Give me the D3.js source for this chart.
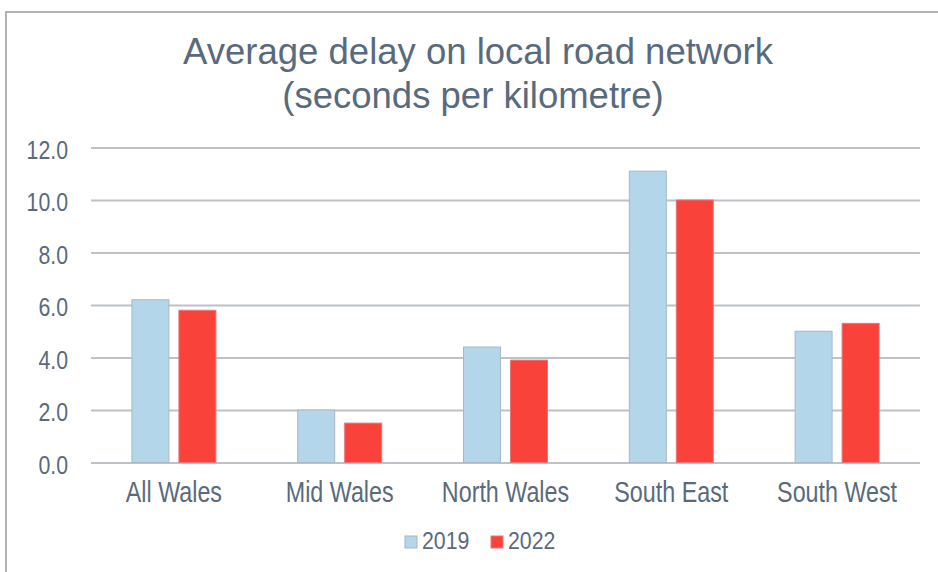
<!DOCTYPE html>
<html>
<head>
<meta charset="utf-8">
<script src="https://cdn.jsdelivr.net/npm/d3@7"></script>
<style>
  body { margin: 0; background: #fff; }
  text { font-family: "Liberation Sans", Arial, sans-serif; }
</style>
</head>
<body>
<div id="chart"></div>
<script>
const categories = ['All Wales', 'Mid Wales', 'North Wales', 'South East', 'South West']
const seriesNames = ['2019', '2022']
const values2019 = [6.2, 2.0, 4.4, 11.1, 5.0]
const values2022 = [5.8, 1.5, 3.9, 10.0, 5.3]
const yTicks = [0, 2, 4, 6, 8, 10, 12]
const titleLines = ['Average delay on local road network', '(seconds per kilometre)']

const width = 938
const height = 572
const padding = { left: 91, top: 147.5, right: 18, bottom: 109.5 }
const chartWidth = width - padding.left - padding.right
const chartHeight = height - padding.top - padding.bottom
const textColor = '#596a7c'
const colors = { '2019': '#b4d6ea', '2022': '#f9433a' }
const strokes = { '2019': '#a7b8c6', '2022': '#e8757a' }

const svg = d3.select('#chart').append('svg')
    .attr('width', width)
    .attr('height', height)

// outer frame
svg.append('rect')
    .attr('x', 6)
    .attr('y', 12)
    .attr('width', width + 10)
    .attr('height', height + 10)
    .attr('fill', 'none')
    .attr('stroke', '#b3b3b3')
    .attr('stroke-width', 2)

svg.append('g')
    .selectAll('text')
    .data(titleLines).enter()
  .append('text')
    .attr('x', (d, i) => i === 0 ? 478 : 473)
    .attr('y', (d, i) => 64 + i * 44)
    .attr('text-anchor', 'middle')
    .attr('font-size', 36.5)
    .attr('fill', textColor)
    .text(d => d)

const xScale = d3.scaleBand()
    .range([0, chartWidth])
    .domain(categories)

const xInner = d3.scaleBand()
    .domain(seriesNames)
    .range([0, xScale.bandwidth()])
    .paddingInner(0.213)
    .paddingOuter(0.87)

const yScale = d3.scaleLinear()
    .range([chartHeight, 0])
    .domain([0, 12])

const chart = svg.append('g')
    .attr('transform', `translate(${padding.left}, ${padding.top})`)

const yAxis = d3.axisLeft(yScale)
    .tickValues(yTicks)
    .tickFormat(d3.format('.1f'))
    .tickSize(-chartWidth)
    .tickPadding(23)

const yAxisElement = chart.append('g')
    .attr('class', 'y axis')
    .call(yAxis)

yAxisElement.select('.domain').remove()
yAxisElement.selectAll('.tick line')
    .attr('stroke', '#bcc2c8')
    .attr('stroke-width', 2)
yAxisElement.selectAll('.tick text')
    .attr('font-size', 21.3)
    .attr('dy', '0.42em')
    .attr('transform', 'scale(1, 1.2)')
    .attr('fill', textColor)

const rows = categories.map((c, i) => ({ category: c, values: [values2019[i], values2022[i]] }))

const groups = chart.selectAll('g.group')
    .data(rows).enter()
  .append('g')
    .attr('class', 'group')
    .attr('transform', d => `translate(${xScale(d.category)}, 0)`)

groups.selectAll('rect')
    .data(d => d.values.map((v, j) => ({ series: seriesNames[j], value: v })))
    .enter()
  .append('rect')
    .attr('x', d => xInner(d.series))
    .attr('y', d => yScale(d.value))
    .attr('width', xInner.bandwidth())
    .attr('height', d => chartHeight - yScale(d.value))
    .attr('fill', d => colors[d.series])
    .attr('stroke', d => strokes[d.series])
    .attr('stroke-width', 1)

const xAxis = d3.axisBottom(xScale).tickSize(0)
const xAxisElement = chart.append('g')
    .attr('class', 'x axis')
    .attr('transform', `translate(0, ${chartHeight})`)
    .call(xAxis)
xAxisElement.select('.domain').remove()
xAxisElement.selectAll('.tick text')
    .attr('font-size', 23.3)
    .attr('y', 32.4)
    .attr('dy', 0)
    .attr('transform', 'scale(1, 1.23)')
    .attr('fill', textColor)

// legend
const legend = svg.append('g')
    .attr('transform', 'translate(405, 536)')

const legendItems = legend.selectAll('g')
    .data(seriesNames).enter()
  .append('g')
    .attr('transform', (d, i) => `translate(${i * 86}, 0)`)

legendItems.append('rect')
    .attr('x', 0)
    .attr('y', 0)
    .attr('width', 12)
    .attr('height', 12)
    .attr('fill', d => colors[d])
    .attr('stroke', d => strokes[d])

legendItems.append('text')
    .attr('x', 17)
    .attr('y', 12)
    .attr('font-size', 21.3)
    .attr('transform', 'scale(1, 1.08)')
    .attr('fill', textColor)
    .text(d => d)
</script>
</body>
</html>
